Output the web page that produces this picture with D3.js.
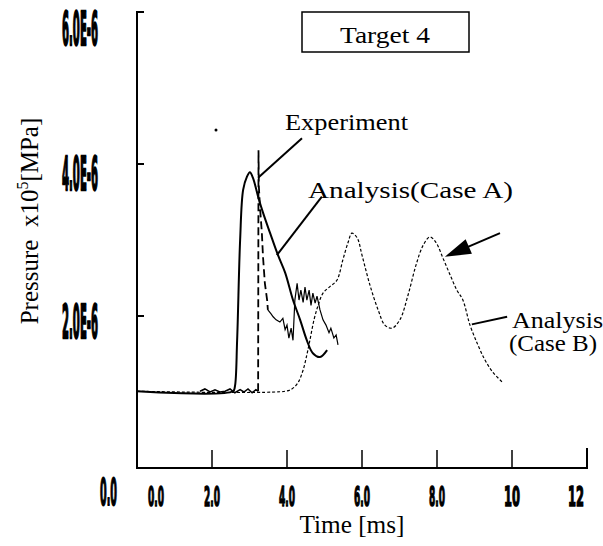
<!DOCTYPE html>
<html>
<head>
<meta charset="utf-8">
<script src="https://cdn.jsdelivr.net/npm/d3@7"></script>
<style>
body { margin: 0; background: #fff; }
</style>
</head>
<body>
<div id="chart"></div>
<script>
// pressure values are in units of 1e-6 (as on the axis)
const yTicks = [0, 2, 4, 6];
const yTickLabels = ["0.0", "2.0E-6", "4.0E-6", "6.0E-6"];
const xTicks = [0, 2, 4, 6, 8, 10, 12];
const xTickLabels = ["0.0", "2.0", "4.0", "6.0", "8.0", "10", "12"];

// Experiment (noisy measured trace)
const expT = [1.68, 1.81, 1.95, 2.08, 2.21, 2.35, 2.48, 2.61, 2.75, 2.85, 2.96, 3.07, 3.17, 3.23,
    3.24, 3.25, 3.28, 3.33, 3.36, 3.41, 3.47, 3.49,
    3.57, 3.63, 3.71, 3.81, 3.89, 3.95, 4.00, 4.05, 4.11, 4.16, 4.21, 4.27, 4.32, 4.37, 4.43,
    4.48, 4.53, 4.59, 4.64, 4.69, 4.75, 4.80, 4.88, 4.96, 5.04, 5.12, 5.17, 5.25, 5.31, 5.36];
const expP = [1.01, 1.04, 1.00, 1.03, 1.00, 1.01, 1.04, 0.99, 1.03, 1.00, 1.04, 0.99, 1.03, 1.01,
    4.18, 3.70, 3.43, 3.09, 2.78, 2.43, 2.21, 2.08,
    2.03, 1.99, 1.95, 1.92, 1.97, 1.82, 1.88, 1.71, 1.84, 1.68, 2.21, 2.43, 2.21, 2.34, 2.18,
    2.38, 2.21, 2.34, 2.14, 2.30, 2.17, 2.26, 2.08, 1.95, 1.88, 1.78, 1.84, 1.71, 1.75, 1.62];

// Analysis (Case A)
const caseAT = [0, 2.56, 2.61, 2.67, 2.75, 2.83, 2.93, 3.01, 3.09, 3.23, 3.36, 3.55, 3.76, 3.95,
    4.16, 4.35, 4.53, 4.69, 4.88, 5.07];
const caseAP = [1.01, 1.01, 1.07, 1.68, 3.00, 3.66, 3.83, 3.89, 3.82, 3.57, 3.36, 3.09, 2.80, 2.57,
    2.21, 1.95, 1.68, 1.51, 1.46, 1.55];

// Analysis (Case B)
const caseBT = [0, 3.95, 4.13, 4.29, 4.43, 4.53, 4.61, 4.72, 4.83, 4.96, 5.15, 5.33, 5.49, 5.63,
    5.73, 5.87, 6.00, 6.21, 6.43, 6.61, 6.80, 7.01, 7.23, 7.44, 7.63, 7.81, 7.97, 8.16, 8.35,
    8.53, 8.69, 8.88, 9.09, 9.28, 9.49, 9.76];
const caseBP = [1.01, 1.01, 1.04, 1.12, 1.29, 1.49, 1.68, 1.95, 2.14, 2.30, 2.39, 2.47, 2.74, 2.97,
    3.09, 3.03, 2.80, 2.41, 2.08, 1.88, 1.84, 1.95, 2.28, 2.67, 2.93, 3.04, 2.97, 2.76, 2.54,
    2.34, 2.21, 1.88, 1.62, 1.42, 1.26, 1.12];

const width = 603;
const height = 546;

const svg = d3.select('#chart').append('svg').attr('width', width).attr('height', height)
    .style('background', '#fff');

const x = d3.scaleLinear().domain([0, 12]).range([137, 587]);
const y = d3.scaleLinear().domain([0, 6]).range([468, 12]);

const zip = (ts, ps) => ts.map((t, i) => ({t: t, p: ps[i]}));
const expData = zip(expT, expP);

const smooth = d3.line().x(d => x(d.t)).y(d => y(d.p)).curve(d3.curveCatmullRom.alpha(0.5));
const straight = d3.line().x(d => x(d.t)).y(d => y(d.p));

// axes
svg.append('path')
    .attr('d', `M${x(0) + 7},${y(6)}H${x(0)}V${y(0)}H${x(12)}V${y(0) - 20}`)
    .attr('fill', 'none').attr('stroke', '#000').attr('stroke-width', 2);

svg.selectAll('.ytick').data(yTicks.slice(1, 3)).enter().append('line')
    .attr('x1', x(0)).attr('x2', x(0) + 7)
    .attr('y1', d => y(d)).attr('y2', d => y(d))
    .attr('stroke', '#000').attr('stroke-width', 2);

svg.selectAll('.xtick').data(xTicks.slice(1, 6)).enter().append('line')
    .attr('x1', d => x(d)).attr('x2', d => x(d))
    .attr('y1', y(0)).attr('y2', y(0) - 18)
    .attr('stroke', '#000').attr('stroke-width', 1.5);

// squeezed tall tick labels like the original plotter font
const yLabelBase = {0: 505, 2: 338, 4: 190, 6: 45};
svg.selectAll('.ylab').data(yTicks).enter().append('text')
    .attr('transform', d => `translate(${d === 0 ? 117 : 98},${yLabelBase[d]}) scale(1,${d === 0 ? 3.8 : 4.6})`)
    .attr('text-anchor', 'end')
    .attr('font-family', 'DejaVu Sans')
    .attr('font-weight', 'bold')
    .attr('font-size', 10)
    .attr('stroke', '#000').attr('stroke-width', 0.5)
    .attr('textLength', d => d === 0 ? 17 : 36)
    .attr('lengthAdjust', 'spacingAndGlyphs')
    .text((d, i) => yTickLabels[i]);

const xLabelShift = {0: 19, 12: -11};
svg.selectAll('.xlab').data(xTicks).enter().append('text')
    .attr('transform', d => `translate(${x(d) + (xLabelShift[d] || 0) - 8},506) scale(1,3.0)`)
    .attr('font-family', 'DejaVu Sans')
    .attr('font-weight', 'bold')
    .attr('font-size', 9)
    .attr('stroke', '#000').attr('stroke-width', 0.5)
    .attr('textLength', 16)
    .attr('lengthAdjust', 'spacingAndGlyphs')
    .text((d, i) => xTickLabels[i]);

// axis titles
svg.append('text')
    .attr('x', 352).attr('y', 533)
    .attr('text-anchor', 'middle')
    .attr('font-family', 'Liberation Serif')
    .attr('font-size', 25)
    .attr('textLength', 105).attr('lengthAdjust', 'spacingAndGlyphs')
    .text('Time [ms]');

const yTitle = svg.append('text')
    .attr('transform', 'translate(38,221) rotate(-90)')
    .attr('text-anchor', 'middle')
    .attr('font-family', 'Liberation Serif')
    .attr('font-size', 25);
yTitle.append('tspan').text('Pressure\u00a0\u00a0x10');
yTitle.append('tspan').attr('dy', -10).attr('font-size', 16).text('5');
yTitle.append('tspan').attr('dy', 10).text('[MPa]');

// curves
svg.append('path').datum(zip(caseBT, caseBP))
    .attr('d', smooth).attr('fill', 'none')
    .attr('stroke', '#000').attr('stroke-width', 1.2).attr('stroke-dasharray', '3,2');

svg.append('path').datum(expData.slice(0, 14))
    .attr('d', straight).attr('fill', 'none')
    .attr('stroke', '#000').attr('stroke-width', 1.5);
svg.append('path').datum(expData.slice(13, 22))
    .attr('d', straight).attr('fill', 'none')
    .attr('stroke', '#000').attr('stroke-width', 1.8).attr('stroke-dasharray', '8,4');
svg.append('path').datum(expData.slice(21))
    .attr('d', straight).attr('fill', 'none')
    .attr('stroke', '#000').attr('stroke-width', 1.2);

svg.append('path').datum(zip(caseAT, caseAP))
    .attr('d', smooth).attr('fill', 'none')
    .attr('stroke', '#000').attr('stroke-width', 2);

// title box
svg.append('rect').attr('x', 302).attr('y', 12).attr('width', 167).attr('height', 40)
    .attr('fill', 'none').attr('stroke', '#000').attr('stroke-width', 1.5);
svg.append('text').attr('x', 385).attr('y', 43).attr('text-anchor', 'middle')
    .attr('font-family', 'Liberation Serif').attr('font-size', 23)
    .attr('textLength', 90).attr('lengthAdjust', 'spacingAndGlyphs')
    .text('Target 4');

// annotations (leader lines given in data units)
const leaders = [
    [[4.40, 4.34], [3.23, 3.82]],
    [[4.93, 3.57], [3.73, 2.80]],
    [[9.87, 1.99], [8.93, 1.89]]
];
svg.selectAll('.leader').data(leaders).enter().append('line')
    .attr('x1', d => x(d[0][0])).attr('y1', d => y(d[0][1]))
    .attr('x2', d => x(d[1][0])).attr('y2', d => y(d[1][1]))
    .attr('stroke', '#000').attr('stroke-width', 2);

// arrow to Case B second peak
const arrowFrom = [9.68, 3.09];
const arrowTo = [8.21, 2.78];
const ax0 = x(arrowFrom[0]), ay0 = y(arrowFrom[1]);
const ax1 = x(arrowTo[0]), ay1 = y(arrowTo[1]);
const ang = Math.atan2(ay1 - ay0, ax1 - ax0);
svg.append('line').attr('x1', ax0).attr('y1', ay0)
    .attr('x2', ax1 - 20 * Math.cos(ang)).attr('y2', ay1 - 20 * Math.sin(ang))
    .attr('stroke', '#000').attr('stroke-width', 2);
const hl = 26, hw = 8;
const bx = ax1 - hl * Math.cos(ang), by = ay1 - hl * Math.sin(ang);
svg.append('path')
    .attr('d', `M${ax1},${ay1}L${bx - hw * Math.sin(ang)},${by + hw * Math.cos(ang)}L${bx + hw * Math.sin(ang)},${by - hw * Math.cos(ang)}Z`)
    .attr('fill', '#000');

const labels = [
    {text: 'Experiment', x: 285, y: 130, w: 123},
    {text: 'Analysis(Case A)', x: 308, y: 198, w: 205},
    {text: 'Analysis', x: 512, y: 328, w: 91},
    {text: '(Case B)', x: 509, y: 351, w: 88}
];
svg.selectAll('.lab').data(labels).enter().append('text')
    .attr('x', d => d.x).attr('y', d => d.y)
    .attr('font-family', 'Liberation Serif').attr('font-size', 23)
    .attr('textLength', d => d.w).attr('lengthAdjust', 'spacingAndGlyphs')
    .text(d => d.text);

// small speck in the scanned original
svg.append('circle').attr('cx', 216).attr('cy', 130).attr('r', 1.5).attr('fill', '#000');
</script>
</body>
</html>
